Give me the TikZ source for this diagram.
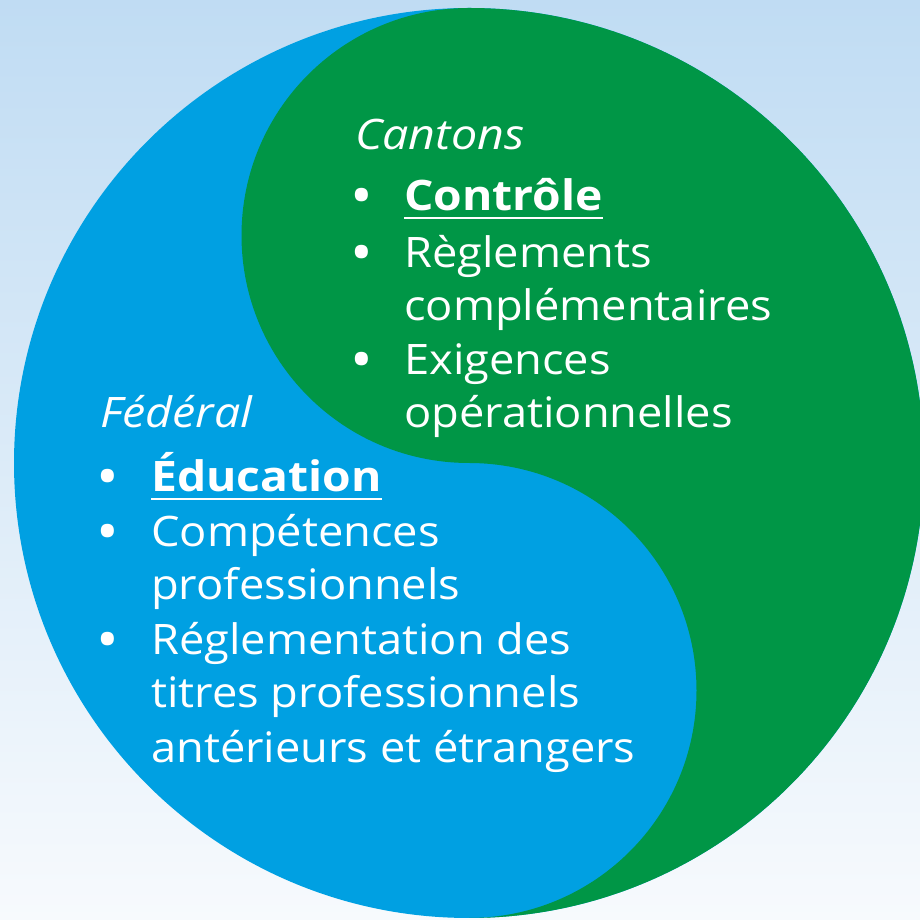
\documentclass[tikz,border=0pt]{standalone}
\usepackage{fontspec}
\setmainfont{Open Sans}[FakeStretch=1.077]
\newfontfamily\headfam{Open Sans}[FakeStretch=1.11]
\newfontfamily\boldfam{Open Sans}[FakeStretch=1.10]
\definecolor{bgtop}{RGB}{192,220,243}
\definecolor{bgbot}{RGB}{247,250,253}
\definecolor{fedblue}{RGB}{0,160,226}
\definecolor{cantgreen}{RGB}{0,150,70}
\begin{document}
\begin{tikzpicture}[x=1pt,y=1pt,
  txt/.style={anchor=base west, inner sep=0pt, text=white, font=\fontsize{42}{50}\selectfont},
  head/.style={txt, font=\headfam\fontsize{42}{50}\selectfont\itshape},
  strong/.style={txt, font=\boldfam\fontsize{42}{50}\selectfont\bfseries},
  bul/.style={anchor=base, inner sep=0pt, text=white, yshift=-4.5pt, font=\fontsize{56}{60}\selectfont},
  uline/.style={white, line width=2.5pt}]
\useasboundingbox (0,0) rectangle (920,920);
\shade[top color=bgtop, bottom color=bgbot] (0,0) rectangle (920,920);
% outer circle (federal, blue)
\fill[fedblue] (469,457) circle[radius=455];
% green (cantons) part
\fill[cantgreen] (469,912) arc[start angle=90, end angle=-90, radius=455]
  arc[start angle=-90, end angle=90, radius=227.5]
  arc[start angle=270, end angle=90, radius=227.5] -- cycle;
% Cantons text
\node[head] (cant) at (355,770) {Cantons};
\node[bul] (b1) at (362,709) {•};
\node[strong] (ctrl) at (404,709) {Contrôle};
\draw[uline] ([yshift=-7pt]ctrl.base west) -- ([yshift=-7pt]ctrl.base east);
\node[bul] (b2) at (362,652) {•};
\node[txt] (regl) at (404,652) {Règlements};
\node[txt] (compl) at (404,599) {complémentaires};
\node[bul] (b3) at (362,545) {•};
\node[txt] (exig) at (404,545) {Exigences};
\node[txt] (oper) at (404,492) {opérationnelles};
% Federal text
\node[head] (fed) at (100,492) {Fédéral};
\node[bul] (b4) at (108,428) {•};
\node[strong] (educ) at (151,428) {Éducation};
\draw[uline] ([yshift=-7pt]educ.base west) -- ([yshift=-7pt]educ.base east);
\node[bul] (b5) at (108,373) {•};
\node[txt] (comp) at (151,373) {Compétences};
\node[txt] (prof) at (151,320) {professionnels};
\node[bul] (b6) at (108,265) {•};
\node[txt] (regle) at (151,265) {Réglementation des};
\node[txt] (titr) at (151,212) {titres professionnels};
\node[txt] (ant) at (151,157) {antérieurs et étrangers};
\end{tikzpicture}
\end{document}
